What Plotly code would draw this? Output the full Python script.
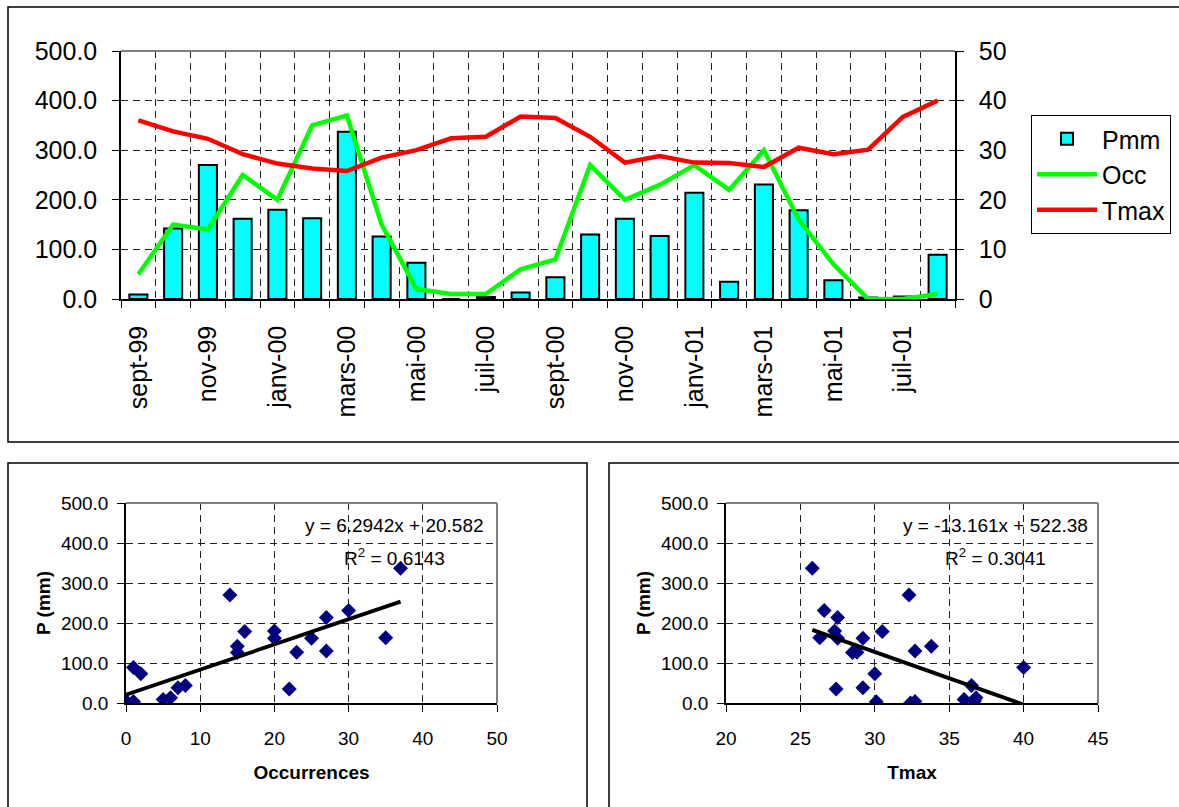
import plotly.graph_objects as go

W, H = 1179, 807
FONT = "Arial, Liberation Sans, sans-serif"

months = ["sept-99", "oct-99", "nov-99", "déc-99", "janv-00", "févr-00", "mars-00", "avr-00",
          "mai-00", "juin-00", "juil-00", "août-00", "sept-00", "oct-00", "nov-00", "déc-00",
          "janv-01", "févr-01", "mars-01", "avr-01", "mai-01", "juin-01", "juil-01", "août-01"]
pmm = [9, 142, 270, 162, 180, 163, 337, 126, 73, 0, 4, 13, 44, 130, 162, 127, 214, 35, 231, 179, 38, 3, 5, 89]
occ = [5, 15, 14, 25, 20, 35, 37, 15, 2, 1, 1, 6, 8, 27, 20, 23, 27, 22, 30, 16, 7, 0, 0, 1]
tmax = [36.0, 33.8, 32.3, 29.2, 27.3, 26.3, 25.8, 28.5, 30.0, 32.4, 32.7, 36.8, 36.5, 32.7,
        27.5, 28.8, 27.5, 27.4, 26.6, 30.5, 29.2, 30.1, 36.7, 40.0]

# Trendline coefficients / labels shown on the charts
occ_slope, occ_icpt = 6.2942, 20.582
tmax_slope, tmax_icpt = -13.161, 522.38
occ_eq, occ_r2 = "y = 6.2942x + 20.582", "R<sup>2</sup> = 0.6143"
tmax_eq, tmax_r2 = "y = -13.161x + 522.38", "R<sup>2</sup> = 0.3041"

idx = list(range(len(months)))
label_idx = idx[::2]
label_txt = months[::2]
boundaries = [i - 0.5 for i in range(len(months) + 1)]


def px_x(a, b):
    return [a / W, b / W]


def px_y(top, bottom):
    return [1 - bottom / H, 1 - top / H]


fig = go.Figure()

fig.add_trace(go.Bar(x=idx, y=pmm, name="Pmm", width=0.52,
                     marker=dict(color="#00FFFF", line=dict(color="black", width=2)),
                     xaxis="x", yaxis="y"))
fig.add_trace(go.Scatter(x=idx, y=occ, name="Occ", mode="lines",
                         line=dict(color="#00FF00", width=4.5), xaxis="x", yaxis="y2"))
fig.add_trace(go.Scatter(x=idx, y=tmax, name="Tmax", mode="lines",
                         line=dict(color="#FF0000", width=4.5), xaxis="x", yaxis="y2"))

# scatter 1 : P vs occurrences
fig.add_trace(go.Scatter(x=occ, y=pmm, mode="markers", showlegend=False,
                         marker=dict(symbol="diamond", size=11.5, color="#000080"),
                         xaxis="x2", yaxis="y3"))
ox = [min(occ), max(occ)]
fig.add_trace(go.Scatter(x=ox, y=[occ_slope * v + occ_icpt for v in ox], mode="lines",
                         showlegend=False, line=dict(color="black", width=3.8),
                         xaxis="x2", yaxis="y3"))

# scatter 2 : P vs Tmax
fig.add_trace(go.Scatter(x=tmax, y=pmm, mode="markers", showlegend=False,
                         marker=dict(symbol="diamond", size=11.5, color="#000080"),
                         xaxis="x3", yaxis="y4"))
tx = [min(tmax), max(tmax)]
fig.add_trace(go.Scatter(x=tx, y=[tmax_slope * v + tmax_icpt for v in tx], mode="lines",
                         showlegend=False, line=dict(color="black", width=3.8),
                         xaxis="x3", yaxis="y4"))

GRID = dict(showgrid=True, gridcolor="#222", gridwidth=1, griddash="7px,5px")
big = dict(family=FONT, size=25, color="black")
small = dict(family=FONT, size=19, color="black")
AX = dict(automargin=False, zeroline=False, showline=True, linecolor="black", linewidth=1.5,
          ticks="outside", ticklen=7, tickcolor="black")

fig.update_layout(
    template="none",
    width=W, height=H, margin=dict(l=0, r=0, t=0, b=0, autoexpand=False),
    paper_bgcolor="white", plot_bgcolor="white",
    font=dict(family=FONT, color="black"),
    barmode="overlay",
    xaxis=dict(domain=px_x(121, 955), anchor="y", range=[-0.5, 23.5],
               tickmode="array", tickvals=label_idx, ticktext=label_txt, tickangle=-90,
               ticks="", ticklabelstandoff=15, tickfont=big, showgrid=False, zeroline=False,
               showline=True, linecolor="black", linewidth=1.5, automargin=False,
               minor=dict(tickmode="array", tickvals=boundaries, ticks="outside", ticklen=7,
                          tickcolor="black", showgrid=True, gridcolor="#222",
                          griddash="7px,5px", gridwidth=1)),
    yaxis=dict(domain=px_y(51, 299), anchor="x", range=[0, 500], dtick=100, tickformat=".1f",
               tickfont=big, ticklabelstandoff=10, **AX, **GRID),
    yaxis2=dict(overlaying="y", side="right", anchor="x", range=[0, 50], dtick=10,
                tickfont=big, ticklabelstandoff=10, showgrid=False, **AX),
    xaxis2=dict(domain=px_x(126, 497), anchor="y3", range=[0, 50], dtick=10, tickfont=small,
                ticklabelstandoff=10,
                title=dict(text="<b>Occurrences</b>", font=small, standoff=18), **AX, **GRID),
    yaxis3=dict(domain=px_y(503, 703), anchor="x2", range=[0, 500], dtick=100, tickformat=".1f",
                tickfont=small, ticklabelstandoff=5,
                title=dict(text="<b>P (mm)</b>", font=small, standoff=5), **AX, **GRID),
    xaxis3=dict(domain=px_x(726, 1098), anchor="y4", range=[20, 45], dtick=5, tickfont=small,
                ticklabelstandoff=10,
                title=dict(text="<b>Tmax</b>", font=small, standoff=18), **AX, **GRID),
    yaxis4=dict(domain=px_y(503, 703), anchor="x3", range=[0, 500], dtick=100, tickformat=".1f",
                tickfont=small, ticklabelstandoff=5,
                title=dict(text="<b>P (mm)</b>", font=small, standoff=5), **AX, **GRID),
    legend=dict(x=1031 / W, y=1 - 115 / H, xanchor="left", yanchor="top",
                bgcolor="white", bordercolor="black", borderwidth=1,
                font=big, itemwidth=60, tracegroupgap=0),
)

shapes = []
# outer chart frames
shapes.append(dict(type="rect", xref="paper", yref="paper", x0=8 / W, x1=1.05,
                   y0=1 - 442 / H, y1=1 - 7 / H, line=dict(color="black", width=1.5)))
shapes.append(dict(type="rect", xref="paper", yref="paper", x0=8 / W, x1=587 / W,
                   y0=-0.05, y1=1 - 463 / H, line=dict(color="black", width=1.5)))
shapes.append(dict(type="rect", xref="paper", yref="paper", x0=609 / W, x1=1.05,
                   y0=-0.05, y1=1 - 463 / H, line=dict(color="black", width=1.5)))
# gray plot-area borders (top / right)
for xr, yr, right in [("x", "y", False), ("x2", "y3", True), ("x3", "y4", True)]:
    shapes.append(dict(type="line", xref=xr + " domain", yref=yr + " domain", x0=0, x1=1,
                       y0=1, y1=1, line=dict(color="#808080", width=2)))
    if right:
        shapes.append(dict(type="line", xref=xr + " domain", yref=yr + " domain", x0=1, x1=1,
                           y0=0, y1=1, line=dict(color="#808080", width=2)))
fig.update_layout(shapes=shapes)

ann = []
for xr, yr, eq, r2 in [("x2", "y3", occ_eq, occ_r2), ("x3", "y4", tmax_eq, tmax_r2)]:
    ann.append(dict(xref=xr + " domain", yref=yr + " domain", x=0.725, y=0.89,
                    text=eq, showarrow=False, font=small, xanchor="center", yanchor="middle"))
    ann.append(dict(xref=xr + " domain", yref=yr + " domain", x=0.725, y=0.73,
                    text=r2, showarrow=False, font=small, xanchor="center", yanchor="middle"))
fig.update_layout(annotations=ann)

fig.write_html("out.html", config={"displayModeBar": False},
               post_script="document.body.style.margin='0';document.body.style.overflow='hidden';")
